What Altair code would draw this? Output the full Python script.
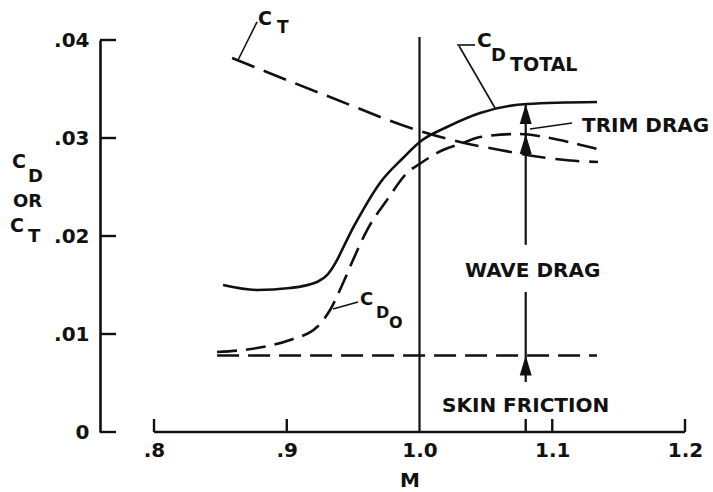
import altair as alt
import pandas as pd

# ---------------- values ----------------
X_TICKS = [0.8, 0.9, 1.0, 1.1, 1.2]
Y_TICKS = [0.0, 0.01, 0.02, 0.03, 0.04]
X_MARKS = [0.8, 0.9, 1.08, 1.1, 1.2]          # short upward marks on the M axis

CT_M = [0.8588, 0.9326, 1.0004, 1.0305, 1.0606, 1.0908, 1.1134, 1.1345]
CT_V = [0.03816, 0.03418, 0.03071, 0.02959, 0.02878, 0.02806, 0.02770, 0.02755]

CD0_M = [0.8475, 0.8776, 0.9024, 0.9228, 0.9326, 0.9424, 0.9499, 0.9605, 0.9755,
         0.9906, 1.0011, 1.0177, 1.0328, 1.0456, 1.0757, 1.0945, 1.1156, 1.1337]
CD0_V = [0.00816, 0.00857, 0.00939, 0.01071, 0.01245, 0.01520, 0.01755, 0.02061, 0.02367,
         0.02643, 0.02745, 0.02878, 0.02949, 0.03010, 0.03041, 0.03010, 0.02949, 0.02888]

CDT_M = [0.852, 0.8776, 0.9024, 0.9228, 0.9311, 0.9371, 0.9431, 0.9499, 0.9574,
         0.9702, 0.9876, 1.0011, 1.0207, 1.0456, 1.0810, 1.1337]
CDT_V = [0.0150, 0.01449, 0.01469, 0.01531, 0.01612, 0.01735, 0.01898, 0.02082, 0.02265,
         0.02541, 0.02796, 0.02969, 0.03112, 0.03255, 0.03347, 0.03367]

SKIN_M = [0.8475, 1.1337]
SKIN_V = [0.0078, 0.0078]

SONIC_M = 1.0
SONIC_TOP = 0.0403

ARROW_M = 1.08
ARROW_SHAFT_LO = [0.0051, 0.0191]
ARROW_SHAFT_HI = [0.01429, 0.03347]
ARROW_TIPS = [0.0078, 0.0304, 0.03347]

LEAD_M1 = [0.8776, 1.0283, 1.0298, 1.0832, 0.9348]
LEAD_V1 = [0.04184, 0.03949, 0.03939, 0.03092, 0.01255]
LEAD_M2 = [0.8633, 1.0418, 1.0569, 1.1149, 0.9537]
LEAD_V2 = [0.03796, 0.03949, 0.03306, 0.03153, 0.01327]

LABEL_TEXT = ["C", "T", "C", "D", "TOTAL", "TRIM DRAG", "WAVE DRAG", "SKIN FRICTION", "C", "D", "O"]
LABEL_M = [0.8783, 0.8927, 1.0433, 1.0539, 1.0682, 1.1224, 1.0343, 1.0170, 0.9552, 0.9672, 0.9770]
LABEL_V = [0.04153, 0.04071, 0.03929, 0.03786, 0.03684, 0.03061, 0.01582, 0.00204, 0.01296, 0.01163, 0.01061]

X_DOMAIN = [0.7593, 1.2]
Y_DOMAIN = [0.0, 0.04]

# ---------------- styling ----------------
FONT = "DejaVu Sans"
INK = "#111111"
LABEL_SIZE = [19, 17, 20, 18, 19, 20, 20, 20, 18, 16, 16]
W, H = 585, 392

xs = alt.Scale(domain=X_DOMAIN, nice=False, zero=False)
ys = alt.Scale(domain=Y_DOMAIN, nice=False, zero=False)

axis_x = alt.Axis(values=X_TICKS, domain=False, ticks=False, grid=False,
                  labelExpr="replace(format(datum.value, '.1f'), '0.', '.')",
                  labelFont=FONT, labelFontSize=20, labelFontWeight="bold",
                  labelColor=INK, labelPadding=8, labelFlush=False, labelOverlap=False,
                  title="")
axis_y = alt.Axis(values=Y_TICKS, domain=True, domainColor=INK, domainWidth=2.6,
                  ticks=False, grid=False,
                  labelExpr="datum.value == 0 ? '0' : replace(format(datum.value, '.2f'), '0.', '.')",
                  labelFont=FONT, labelFontSize=20, labelFontWeight="bold",
                  labelColor=INK, labelPadding=11, labelFlush=False, labelOverlap=False,
                  title="")


def X(f):
    return alt.X(f, type="quantitative", scale=xs, axis=axis_x)


def Y(f):
    return alt.Y(f, type="quantitative", scale=ys, axis=axis_y)


ct = pd.DataFrame({"M": CT_M, "V": CT_V})
cd0 = pd.DataFrame({"M": CD0_M, "V": CD0_V})
cdt = pd.DataFrame({"M": CDT_M, "V": CDT_V})
skin = pd.DataFrame({"M": SKIN_M, "V": SKIN_V})
ticks_y = pd.DataFrame({"V": Y_TICKS})
ticks_x = pd.DataFrame({"M": X_MARKS})
xaxis_line = pd.DataFrame({"M": [X_TICKS[0]], "M2": [X_TICKS[-1]], "V": [0.0]})
sonic = pd.DataFrame({"M": [SONIC_M], "V": [0.0], "V2": [SONIC_TOP]})
shafts = pd.DataFrame({"M": [ARROW_M, ARROW_M], "V": ARROW_SHAFT_LO, "V2": ARROW_SHAFT_HI})
tips = pd.DataFrame({"M": [ARROW_M] * len(ARROW_TIPS), "V": ARROW_TIPS})
leads = pd.DataFrame({"M": LEAD_M1, "V": LEAD_V1, "M2": LEAD_M2, "V2": LEAD_V2})
labels = pd.DataFrame({"M": LABEL_M, "V": LABEL_V, "t": LABEL_TEXT, "s": LABEL_SIZE})

layers = []

layers.append(alt.Chart(ct).mark_line(color=INK, strokeWidth=2.6, strokeDash=[24, 10],
                                      interpolate="monotone").encode(x=X("M"), y=Y("V")))
layers.append(alt.Chart(cd0).mark_line(color=INK, strokeWidth=2.6, strokeDash=[20, 9],
                                       interpolate="monotone").encode(x=X("M"), y=Y("V")))
layers.append(alt.Chart(cdt).mark_line(color=INK, strokeWidth=2.6,
                                       interpolate="monotone").encode(x=X("M"), y=Y("V")))
layers.append(alt.Chart(skin).mark_line(color=INK, strokeWidth=2.6, strokeDash=[22, 9])
              .encode(x=X("M"), y=Y("V")))

# axis line along M, and inward tick marks
layers.append(alt.Chart(xaxis_line).mark_rule(color=INK, strokeWidth=2.6)
              .encode(x=X("M"), x2="M2", y=Y("V")))
layers.append(alt.Chart(ticks_y).mark_rule(color=INK, strokeWidth=2.4)
              .encode(y=Y("V"), x=alt.value(0), x2=alt.value(16)))
layers.append(alt.Chart(ticks_x).mark_rule(color=INK, strokeWidth=2.4)
              .encode(x=X("M"), y=alt.value(H), y2=alt.value(H - 13)))

# M = 1.0 line
layers.append(alt.Chart(sonic).mark_rule(color=INK, strokeWidth=2.2)
              .encode(x=X("M"), y=Y("V"), y2="V2"))

# arrows
layers.append(alt.Chart(shafts).mark_rule(color=INK, strokeWidth=2.2)
              .encode(x=X("M"), y=Y("V"), y2="V2"))
layers.append(alt.Chart(tips).mark_point(shape="M0,0L-0.3,1L0.3,1Z", filled=True, size=1600,
                                         color=INK, opacity=1, strokeWidth=0)
              .encode(x=X("M"), y=Y("V")))

# leader lines
layers.append(alt.Chart(leads).mark_rule(color=INK, strokeWidth=1.6)
              .encode(x=X("M"), x2="M2", y=Y("V"), y2="V2"))

# labels inside the plot
layers.append(alt.Chart(labels).mark_text(font=FONT, fontWeight="bold", color=INK,
                                          align="left", baseline="alphabetic")
              .encode(x=X("M"), y=Y("V"), text="t:N", size=alt.Size("s:Q", scale=None)))


# axis titles (M, and the stacked C_D / OR / C_T)
def ptext(txt, px, py, size):
    return alt.Chart(pd.DataFrame({"a": [0]})).mark_text(
        font=FONT, fontWeight="bold", color=INK, fontSize=size,
        align="left", baseline="alphabetic").encode(
        x=alt.value(px), y=alt.value(py), text=alt.value(txt))


layers.append(ptext("M", 300, 447, 20))
layers.append(ptext("C", -88, 128, 19))
layers.append(ptext("D", -72, 142, 18))
layers.append(ptext("OR", -87, 167, 18))
layers.append(ptext("C", -90, 192, 19))
layers.append(ptext("T", -72, 202, 18))

chart = alt.layer(*layers).properties(
    width=W, height=H,
    padding={"left": 100, "top": 40, "right": 28, "bottom": 60},
    autosize=alt.AutoSizeParams(type="none"),
    background="white",
).configure_view(stroke=None)

chart.save("out.html", embed_options={"renderer": "svg", "actions": False})
